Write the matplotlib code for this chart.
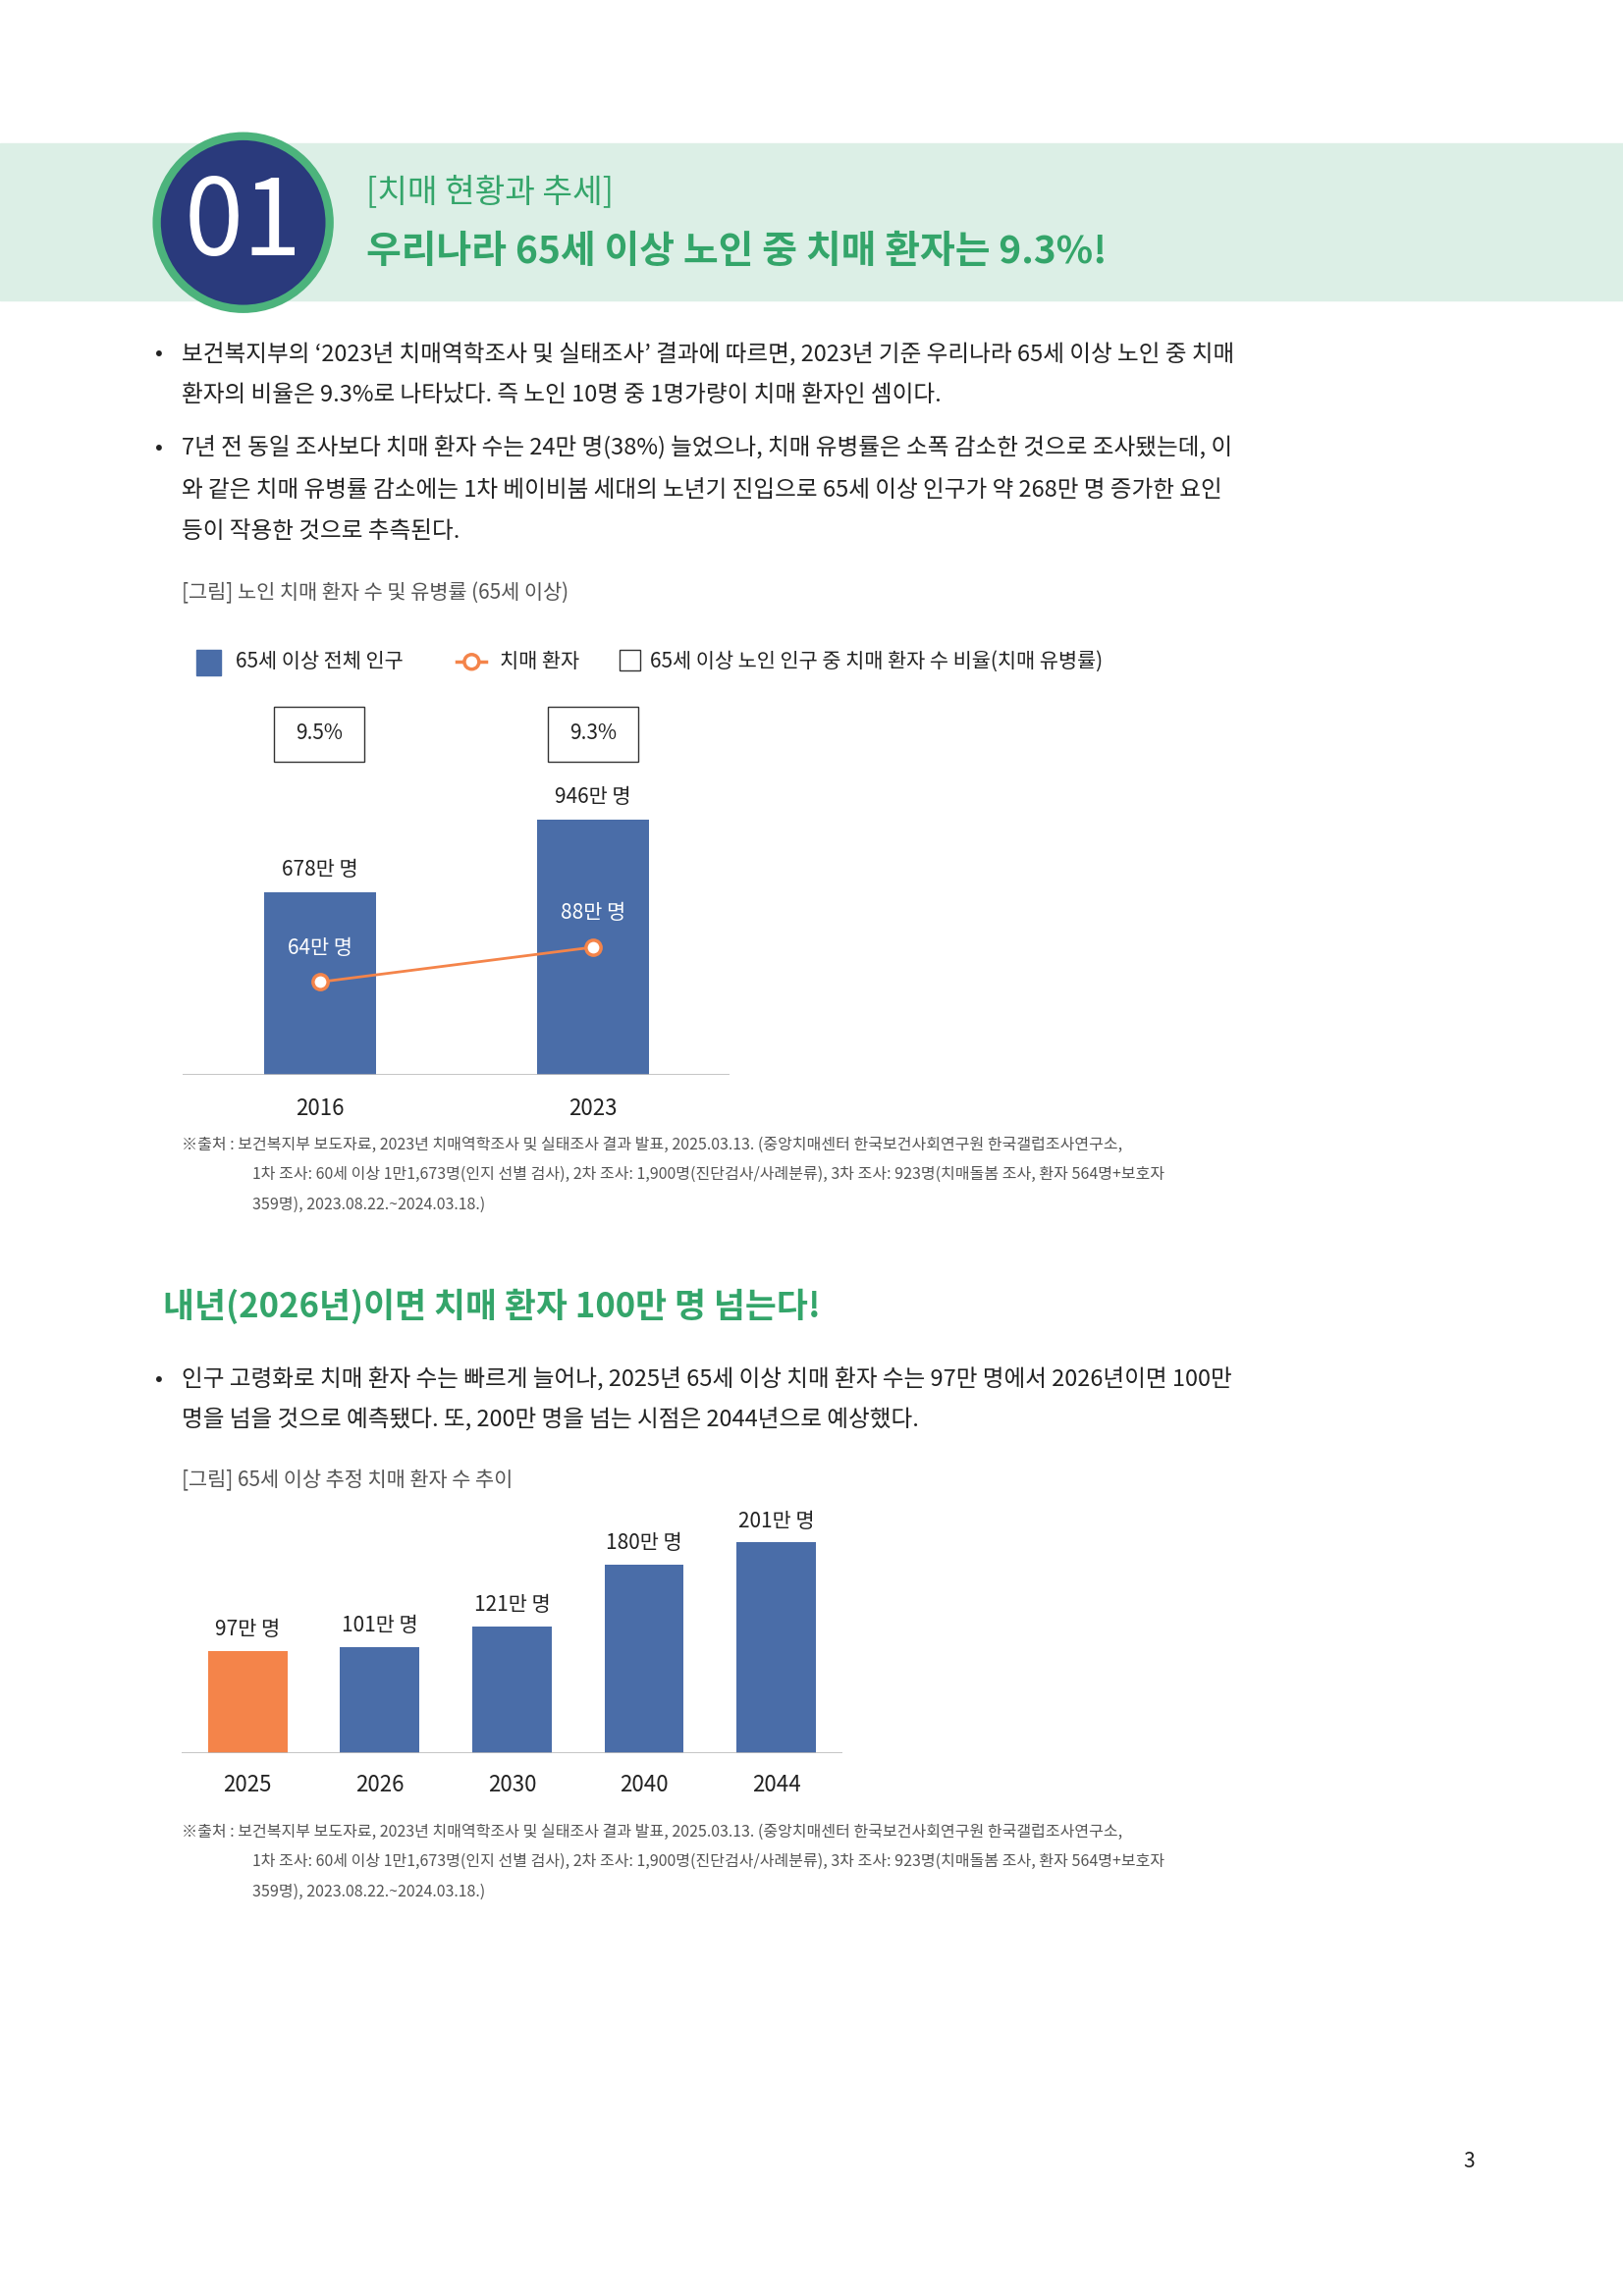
import matplotlib
matplotlib.use("Agg")
import matplotlib.pyplot as plt
from matplotlib.patches import Rectangle, Circle
from matplotlib.lines import Line2D

plt.rcParams["font.family"] = ["Noto Sans CJK KR", "Noto Sans CJK JP", "Noto Sans CJK SC", "DejaVu Sans"]

# --- data ---
years1 = ["2016", "2023"]
pop65 = [678, 946]          # 만 명
patients = [64, 88]         # 만 명
rates = ["9.5%", "9.3%"]

years2 = ["2025", "2026", "2030", "2040", "2044"]
proj = [97, 101, 121, 180, 201]

GREEN = "#34a56a"
MINT = "#dcefe6"
NAVY = "#2a3a7c"
BLUE = "#4a6da8"
ORANGE = "#f4844a"
TXT = "#222222"
GREY = "#555555"

W, H = 1108, 1568
fig = plt.figure(figsize=(16.53, 23.39), dpi=100, facecolor="white")
bg = fig.add_axes([0, 0, 1, 1])
bg.set_xlim(0, W); bg.set_ylim(H, 0); bg.axis("off")


def frac(x0, y0, x1, y1):
    return [x0 / W, 1 - y1 / H, (x1 - x0) / W, (y1 - y0) / H]


def t(x, y, s, size=19, color=TXT, **kw):
    bg.text(x, y, s, fontsize=size, color=color, va="center", **kw)


# header band
bg.add_patch(Rectangle((0, 98), W, 107, color=MINT, zorder=1))
bg.add_patch(Circle((166, 152), 59, facecolor=NAVY, edgecolor="#4cb37c", lw=6, zorder=2))
bg.text(166, 154, "01", fontsize=78, color="white", ha="center", va="center", zorder=3)
t(250, 131, "[치매 현황과 추세]", size=24, color=GREEN)
t(250, 172, "우리나라 65세 이상 노인 중 치매 환자는 9.3%!", size=28, color=GREEN, fontweight="bold")

bullets1 = [
    (242, "보건복지부의 ‘2023년 치매역학조사 및 실태조사’ 결과에 따르면, 2023년 기준 우리나라 65세 이상 노인 중 치매", True),
    (270, "환자의 비율은 9.3%로 나타났다. 즉 노인 10명 중 1명가량이 치매 환자인 셈이다.", False),
    (306, "7년 전 동일 조사보다 치매 환자 수는 24만 명(38%) 늘었으나, 치매 유병률은 소폭 감소한 것으로 조사됐는데, 이", True),
    (335, "와 같은 치매 유병률 감소에는 1차 베이비붐 세대의 노년기 진입으로 65세 이상 인구가 약 268만 명 증가한 요인", False),
    (363, "등이 작용한 것으로 추측된다.", False),
]
for y, s, b in bullets1:
    if b:
        t(106, y, "•", size=17)
    t(124, y, s, size=17)

t(124, 405, "[그림] 노인 치매 환자 수 및 유병률 (65세 이상)", size=15, color=GREY)

# legend
bg.add_patch(Rectangle((134, 444), 17, 17, color=BLUE))
t(161, 452, "65세 이상 전체 인구", size=15)
bg.add_line(Line2D([312, 332], [452, 452], color=ORANGE, lw=2.5))
bg.add_patch(Circle((322, 452), 5, facecolor="white", edgecolor=ORANGE, lw=2.5, zorder=3))
t(341, 452, "치매 환자", size=15)
bg.add_patch(Rectangle((423, 444), 14, 14, facecolor="white", edgecolor="#333333", lw=1))
t(444, 452, "65세 이상 노인 인구 중 치매 환자 수 비율(치매 유병률)", size=15)

# chart 1
ax1 = fig.add_axes(frac(125, 474, 498, 734))
x1 = [0, 1]
ax1.bar(x1, pop65, width=0.41, color=BLUE, zorder=2)
ax1.set_xlim(-0.5, 1.5)
ax1.set_ylim(0, 260 / 0.1839)
ax1.axis("off")
ax1.axhline(0, color="#bbbbbb", lw=1.2)
for xi, v in zip(x1, pop65):
    ax1.text(xi, v + 45, f"{v}만 명", ha="center", va="bottom", fontsize=15, color=TXT)
    ax1.text(xi, -85, years1[xi], ha="center", va="top", fontsize=16, color=TXT)
ax1b = ax1.twinx()
ax1b.set_ylim(0, 260 / 0.99)
ax1b.axis("off")
ax1b.plot(x1, patients, color=ORANGE, lw=2, marker="o", ms=11, mfc="white", mew=2.5, zorder=4)
for xi, v in zip(x1, patients):
    ax1b.text(xi, v + 16, f"{v}만 명", ha="center", va="bottom", fontsize=15, color="white")
for xc, r in zip([218, 405], rates):
    bg.add_patch(Rectangle((xc - 31, 483), 62, 37, facecolor="white", edgecolor="#333333", lw=1))
    t(xc, 501, r, size=15, ha="center")

src = [
    "※출처 : 보건복지부 보도자료, 2023년 치매역학조사 및 실태조사 결과 발표, 2025.03.13. (중앙치매센터 한국보건사회연구원 한국갤럽조사연구소,",
    "1차 조사: 60세 이상 1만1,673명(인지 선별 검사), 2차 조사: 1,900명(진단검사/사례분류), 3차 조사: 923명(치매돌봄 조사, 환자 564명+보호자",
    "359명), 2023.08.22.~2024.03.18.)",
]
for y0 in (782, 1251):
    t(124, y0, src[0], size=11.5, color=GREY)
    t(172, y0 + 20, src[1], size=11.5, color=GREY)
    t(172, y0 + 41, src[2], size=11.5, color=GREY)

# section 2
t(111, 892, "내년(2026년)이면 치매 환자 100만 명 넘는다!", size=25, color=GREEN, fontweight="bold")
t(106, 942, "•", size=17)
t(124, 942, "인구 고령화로 치매 환자 수는 빠르게 늘어나, 2025년 65세 이상 치매 환자 수는 97만 명에서 2026년이면 100만", size=17)
t(124, 970, "명을 넘을 것으로 예측됐다. 또, 200만 명을 넘는 시점은 2044년으로 예상했다.", size=17)
t(124, 1011, "[그림] 65세 이상 추정 치매 환자 수 추이", size=15, color=GREY)

ax2 = fig.add_axes(frac(124, 1020, 575, 1197))
x2 = list(range(len(years2)))
ax2.bar(x2, proj, width=0.6, color=[ORANGE] + [BLUE] * 4, zorder=2)
ax2.set_xlim(-0.5, 4.5)
ax2.set_ylim(0, 177 / 0.715)
ax2.axis("off")
ax2.axhline(0, color="#bbbbbb", lw=1.2)
for xi, v in zip(x2, proj):
    ax2.text(xi, v + 10, f"{v}만 명", ha="center", va="bottom", fontsize=15, color=TXT)
    ax2.text(xi, -20, years2[xi], ha="center", va="top", fontsize=16, color=TXT)

t(1003, 1476, "3", size=15, ha="center")

fig.savefig("out.png", dpi=100, facecolor="white")
